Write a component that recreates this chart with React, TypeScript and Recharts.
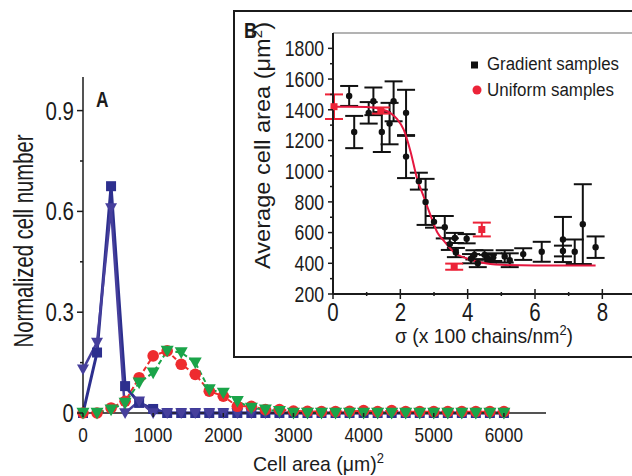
import {
  ComposedChart,
  Line,
  Scatter,
  XAxis,
  YAxis,
  ErrorBar,
  ReferenceLine,
} from "recharts";

const FONT = "'Liberation Sans Narrow', 'Arial Narrow', 'Liberation Sans', Arial, sans-serif";
const INK = "#1b1b1b";

// panel A: normalized cell number per 200 µm² bin
const cellArea = [
  0, 200, 400, 600, 800, 1000, 1200, 1400, 1600, 1800, 2000, 2200, 2400, 2600, 2800, 3000,
  3200, 3400, 3600, 3800, 4000, 4200, 4400, 4600, 4800, 5000, 5200, 5400, 5600, 5800, 6000,
];
const blueSquares = [
  0, 0.18, 0.675, 0.08, 0.03, 0.012, 0, 0, 0, 0, 0, 0, 0, 0, 0, 0,
  0, 0, 0, 0, 0, 0, 0, 0, 0, 0, 0, 0, 0, 0, 0,
];
const blueTriangles = [
  0.13, 0.21, 0.61, 0, 0.035, 0, 0, 0, 0, 0, 0, 0, 0, 0, 0, 0,
  0, 0, 0, 0, 0, 0, 0, 0, 0, 0, 0, 0, 0, 0, 0,
];
const redCircles = [
  0, 0, 0.015, 0.035, 0.105, 0.17, 0.185, 0.145, 0.115, 0.065, 0.05, 0.02, 0.02, 0.01, 0.01, 0.006,
  0.005, 0.004, 0.004, 0.005, 0.007, 0.004, 0.007, 0.004, 0.004, 0.004, 0.004, 0.004, 0.004, 0.004, 0.004,
];
const greenTriangles = [
  0, 0, 0.01, 0.03, 0.09, 0.12, 0.185, 0.18, 0.15, 0.07, 0.06, 0.035, 0.015, 0.01, 0.005, 0,
  0, 0, 0, 0, 0, 0, 0, 0, 0, 0, 0, 0, 0, 0, 0,
];
const areaTicks = [0, 1000, 2000, 3000, 4000, 5000, 6000];
const countTicks = [0, 0.15, 0.3, 0.45, 0.6, 0.75, 0.9];
const countLabels = [0, 0.3, 0.6, 0.9];

// panel B: average cell area vs grafting density
const gradSigma = [
  0.48, 0.63, 1.06, 1.2, 1.45, 1.68, 1.8, 2.17, 2.17, 2.55, 2.75, 3.0, 3.32, 3.47, 3.62, 3.65,
  3.97, 4.1, 4.2, 4.3, 4.5, 4.6, 4.76, 5.1, 5.25, 5.65, 6.2, 6.83, 6.83, 7.18, 7.42, 7.8,
];
const gradArea = [
  1490, 1255, 1380, 1455, 1255, 1310, 1455, 1380, 1095, 935, 800, 670, 635, 525, 565, 470,
  560, 430, 455, 400, 455, 430, 440, 445, 420, 460, 475, 555, 480, 475, 655, 505,
];
const gradErr = [
  65, 105, 70, 90, 130, 135, 130, 150, 140, 55, 150, 38, 73, 38, 33, 30,
  30, 30, 30, 25, 30, 25, 25, 40, 45, 38, 65, 147, 35, 80, 260, 70,
];
const uniSigma = [0.03, 1.42, 3.6, 4.42];
const uniArea = [1420, 1395, 378, 620];
const uniErr = [80, 20, 20, 45];
const fitSigma = [0, 0.5, 1.0, 1.4, 1.7, 1.9, 2.1, 2.3, 2.5, 2.7, 2.9, 3.1, 3.3, 3.6, 4.0, 4.4, 5.0, 6.0, 7.0, 7.8];
const fitArea = [1420, 1420, 1418, 1405, 1380, 1340, 1270, 1130, 950, 830, 710, 600, 545, 470, 430, 405, 390, 385, 385, 385];
const sigmaTicks = [0, 1, 2, 3, 4, 5, 6, 7, 8];
const sigmaLabels = [0, 2, 4, 6, 8];
const avgTicks = [200, 300, 400, 500, 600, 700, 800, 900, 1000, 1100, 1200, 1300, 1400, 1500, 1600, 1700, 1800];
const avgLabels = [200, 400, 600, 800, 1000, 1200, 1400, 1600, 1800];

const histData = cellArea.map((a, i) => ({
  area: a,
  sq: blueSquares[i],
  tri: blueTriangles[i],
  red: redCircles[i],
  green: greenTriangles[i],
}));
const gradData = gradSigma.map((s, i) => ({ s, v: gradArea[i], e: gradErr[i] }));
const uniData = uniSigma.map((s, i) => ({ s, v: uniArea[i], e: uniErr[i] }));
const fitData = fitSigma.map((s, i) => ({ s, v: fitArea[i] }));

// the original uses a condensed face; squeeze the regular one to the same width
const narrow = (s: string, fs: number) =>
  [...s].reduce((w, c) => w + (c === "." ? 0.278 : 0.556), 0) * fs * 0.82;

const triDown = (cx: number, cy: number, w: number) =>
  `M${cx - w / 2},${cy - w * 0.4} L${cx + w / 2},${cy - w * 0.4} L${cx},${cy + w * 0.5} Z`;

const squareDot = (color: string, size: number) => (p: any) =>
  <rect key={`sq-${p.index}`} x={p.cx - size / 2} y={p.cy - size / 2} width={size} height={size} fill={color} />;
const triDot = (color: string, size: number) => (p: any) =>
  <path key={`tr-${p.index}`} d={triDown(p.cx, p.cy, size)} fill={color} />;
const circleDot = (color: string, r: number) => (p: any) =>
  <circle key={`ci-${p.index}`} cx={p.cx} cy={p.cy} r={r} fill={color} />;

// left axis tick: major ticks labelled, minor ticks short
const leftTick = (labels: number[], fmt: (v: number) => string, off: number, major: number, minor: number, fs: number) =>
  (p: any) => {
    const v = p.payload.value;
    const isMajor = labels.includes(v);
    const ax = p.x + off;
    const label = fmt(v);
    return (
      <g>
        <line x1={ax - (isMajor ? major : minor)} x2={ax} y1={p.y} y2={p.y} stroke={INK} strokeWidth={1.5} />
        {isMajor && (
          <text
            x={p.x}
            y={p.y}
            dy="0.36em"
            textAnchor="end"
            fontSize={fs}
            fontFamily={FONT}
            fill={INK}
            textLength={narrow(label, fs)}
            lengthAdjust="spacingAndGlyphs"
          >
            {label}
          </text>
        )}
      </g>
    );
  };

const bottomTick = (labels: number[], off: number, up: number, down: number, minor: number, fs: number) =>
  (p: any) => {
    const v = p.payload.value;
    const isMajor = labels.includes(v);
    const ay = p.y - off;
    const label = String(v);
    return (
      <g>
        <line
          x1={p.x}
          x2={p.x}
          y1={ay - (isMajor ? up : minor)}
          y2={ay + (isMajor ? down : minor)}
          stroke={INK}
          strokeWidth={1.5}
        />
        {isMajor && (
          <text
            x={p.x}
            y={p.y}
            dy="0.71em"
            textAnchor="middle"
            fontSize={fs}
            fontFamily={FONT}
            fill={INK}
            textLength={narrow(label, fs)}
            lengthAdjust="spacingAndGlyphs"
          >
            {label}
          </text>
        )}
      </g>
    );
  };

function Inset() {
  return (
    <div
      style={{
        position: "absolute",
        left: 233,
        top: 10,
        width: 410,
        height: 348,
        border: `2px solid ${INK}`,
        boxSizing: "border-box",
        background: "#fff",
      }}
    >
      <ComposedChart width={406} height={344} margin={{ top: 21, right: 5, bottom: 22, left: 38 }}>
        <XAxis
          type="number"
          dataKey="s"
          domain={[0, 9]}
          ticks={sigmaTicks}
          interval={0}
          height={40}
          stroke={INK}
          strokeWidth={2}
          tickLine={false}
          tickSize={4}
          tickMargin={5}
          tick={bottomTick(sigmaLabels, 9, 5, 5, 2, 25)}
        />
        <YAxis
          type="number"
          dataKey="v"
          domain={[200, 1900]}
          ticks={avgTicks}
          interval={0}
          width={60}
          stroke={INK}
          strokeWidth={2}
          tickLine={false}
          tickSize={4}
          tickMargin={5}
          tick={leftTick(avgLabels, (v) => String(v), 9, 5, 3, 21.5)}
        />
        <ReferenceLine y={1900} stroke="#9a9a9a" strokeWidth={1.5} />
        <Scatter
          data={gradData}
          dataKey="v"
          fill="#111"
          isAnimationActive={false}
          shape={(p: any) => <circle cx={p.cx} cy={p.cy} r={3.2} fill="#111" />}
        >
          <ErrorBar dataKey="e" direction="y" width={9} strokeWidth={2} stroke="#111" />
        </Scatter>
        <Scatter
          data={uniData}
          dataKey="v"
          fill="#ec2338"
          isAnimationActive={false}
          shape={(p: any) => <rect x={p.cx - 3.5} y={p.cy - 3.5} width={7} height={7} fill="#ec2338" />}
        >
          <ErrorBar dataKey="e" direction="y" width={9} strokeWidth={2} stroke="#ec2338" />
        </Scatter>
        <Line
          data={fitData}
          dataKey="v"
          type="monotone"
          stroke="#e5173f"
          strokeWidth={2}
          dot={false}
          isAnimationActive={false}
        />
      </ComposedChart>
    </div>
  );
}

export default function App() {
  return (
    <div
      style={{
        position: "absolute",
        left: 0,
        top: 0,
        width: 632,
        height: 476,
        overflow: "hidden",
        background: "#fff",
        fontFamily: FONT,
      }}
    >
      <ComposedChart width={632} height={476} data={histData} margin={{ top: 77, right: 86, bottom: 23, left: 23 }}>
        <XAxis
          type="number"
          dataKey="area"
          domain={[0, 6600]}
          ticks={areaTicks}
          interval={0}
          height={40}
          stroke={INK}
          strokeWidth={1.5}
          tickLine={false}
          tickSize={4}
          tickMargin={10}
          tick={bottomTick(areaTicks, 14, 0, 4, 0, 21)}
        />
        <YAxis
          type="number"
          domain={[0, 1]}
          ticks={countTicks}
          interval={0}
          width={60}
          stroke={INK}
          strokeWidth={1.5}
          tickLine={false}
          tickSize={6}
          tickMargin={3}
          tick={leftTick(countLabels, (v) => (v === 0 ? "0" : v.toFixed(1)), 9, 6, 3, 25)}
        />
        <Line
          dataKey="sq"
          stroke="#2d2f8e"
          strokeWidth={3}
          dot={squareDot("#2d2f8e", 10)}
          isAnimationActive={false}
        />
        <Line
          dataKey="tri"
          stroke="#463f9c"
          strokeWidth={2.5}
          dot={triDot("#463f9c", 12)}
          isAnimationActive={false}
        />
        <Line
          dataKey="red"
          stroke="#ee2b2e"
          strokeWidth={2}
          strokeDasharray="5 3"
          dot={circleDot("#ee2b2e", 5.8)}
          isAnimationActive={false}
        />
        <Line
          dataKey="green"
          stroke="#1aa449"
          strokeWidth={2}
          strokeDasharray="5 3"
          dot={triDot("#1aa449", 13)}
          isAnimationActive={false}
        />
      </ComposedChart>

      <Inset />

      <svg
        width={632}
        height={476}
        style={{ position: "absolute", left: 0, top: 0, pointerEvents: "none" }}
        fontFamily={FONT}
        fill={INK}
      >
        <text x={96} y={107} fontSize={22} fontWeight="bold" textLength={12.5} lengthAdjust="spacingAndGlyphs">A</text>
        <text x={244} y={38} fontSize={22} fontWeight="bold" textLength={13} lengthAdjust="spacingAndGlyphs">B</text>
        <text
          transform="translate(33,241) rotate(-90)"
          textAnchor="middle"
          fontSize={27}
          textLength={213}
          lengthAdjust="spacingAndGlyphs"
        >
          Normalized cell number
        </text>
        <text x={253} y={471} fontSize={21} textLength={131} lengthAdjust="spacingAndGlyphs">
          Cell area (μm)<tspan fontSize={14} baselineShift="super">2</tspan>
        </text>
        <text
          transform="translate(270,269) rotate(-90)"
          fontSize={22}
          textLength={247}
          lengthAdjust="spacingAndGlyphs"
        >
          Average cell area (μm<tspan fontSize={14} baselineShift="super">2</tspan>)
        </text>
        <text x={395} y={343} fontSize={21} textLength={178} lengthAdjust="spacingAndGlyphs">
          σ (x 100 chains/nm<tspan fontSize={14} baselineShift="super">2</tspan>)
        </text>

        {/* inset legend */}
        <rect x={471} y={61.5} width={7} height={7} fill="#111" />
        <text x={487} y={70} fontSize={18} textLength={132} lengthAdjust="spacingAndGlyphs">
          Gradient samples
        </text>
        <circle cx={477} cy={90} r={4.5} fill="#ec2338" />
        <text x={487} y={96} fontSize={18} textLength={127} lengthAdjust="spacingAndGlyphs">
          Uniform samples
        </text>
      </svg>
    </div>
  );
}
